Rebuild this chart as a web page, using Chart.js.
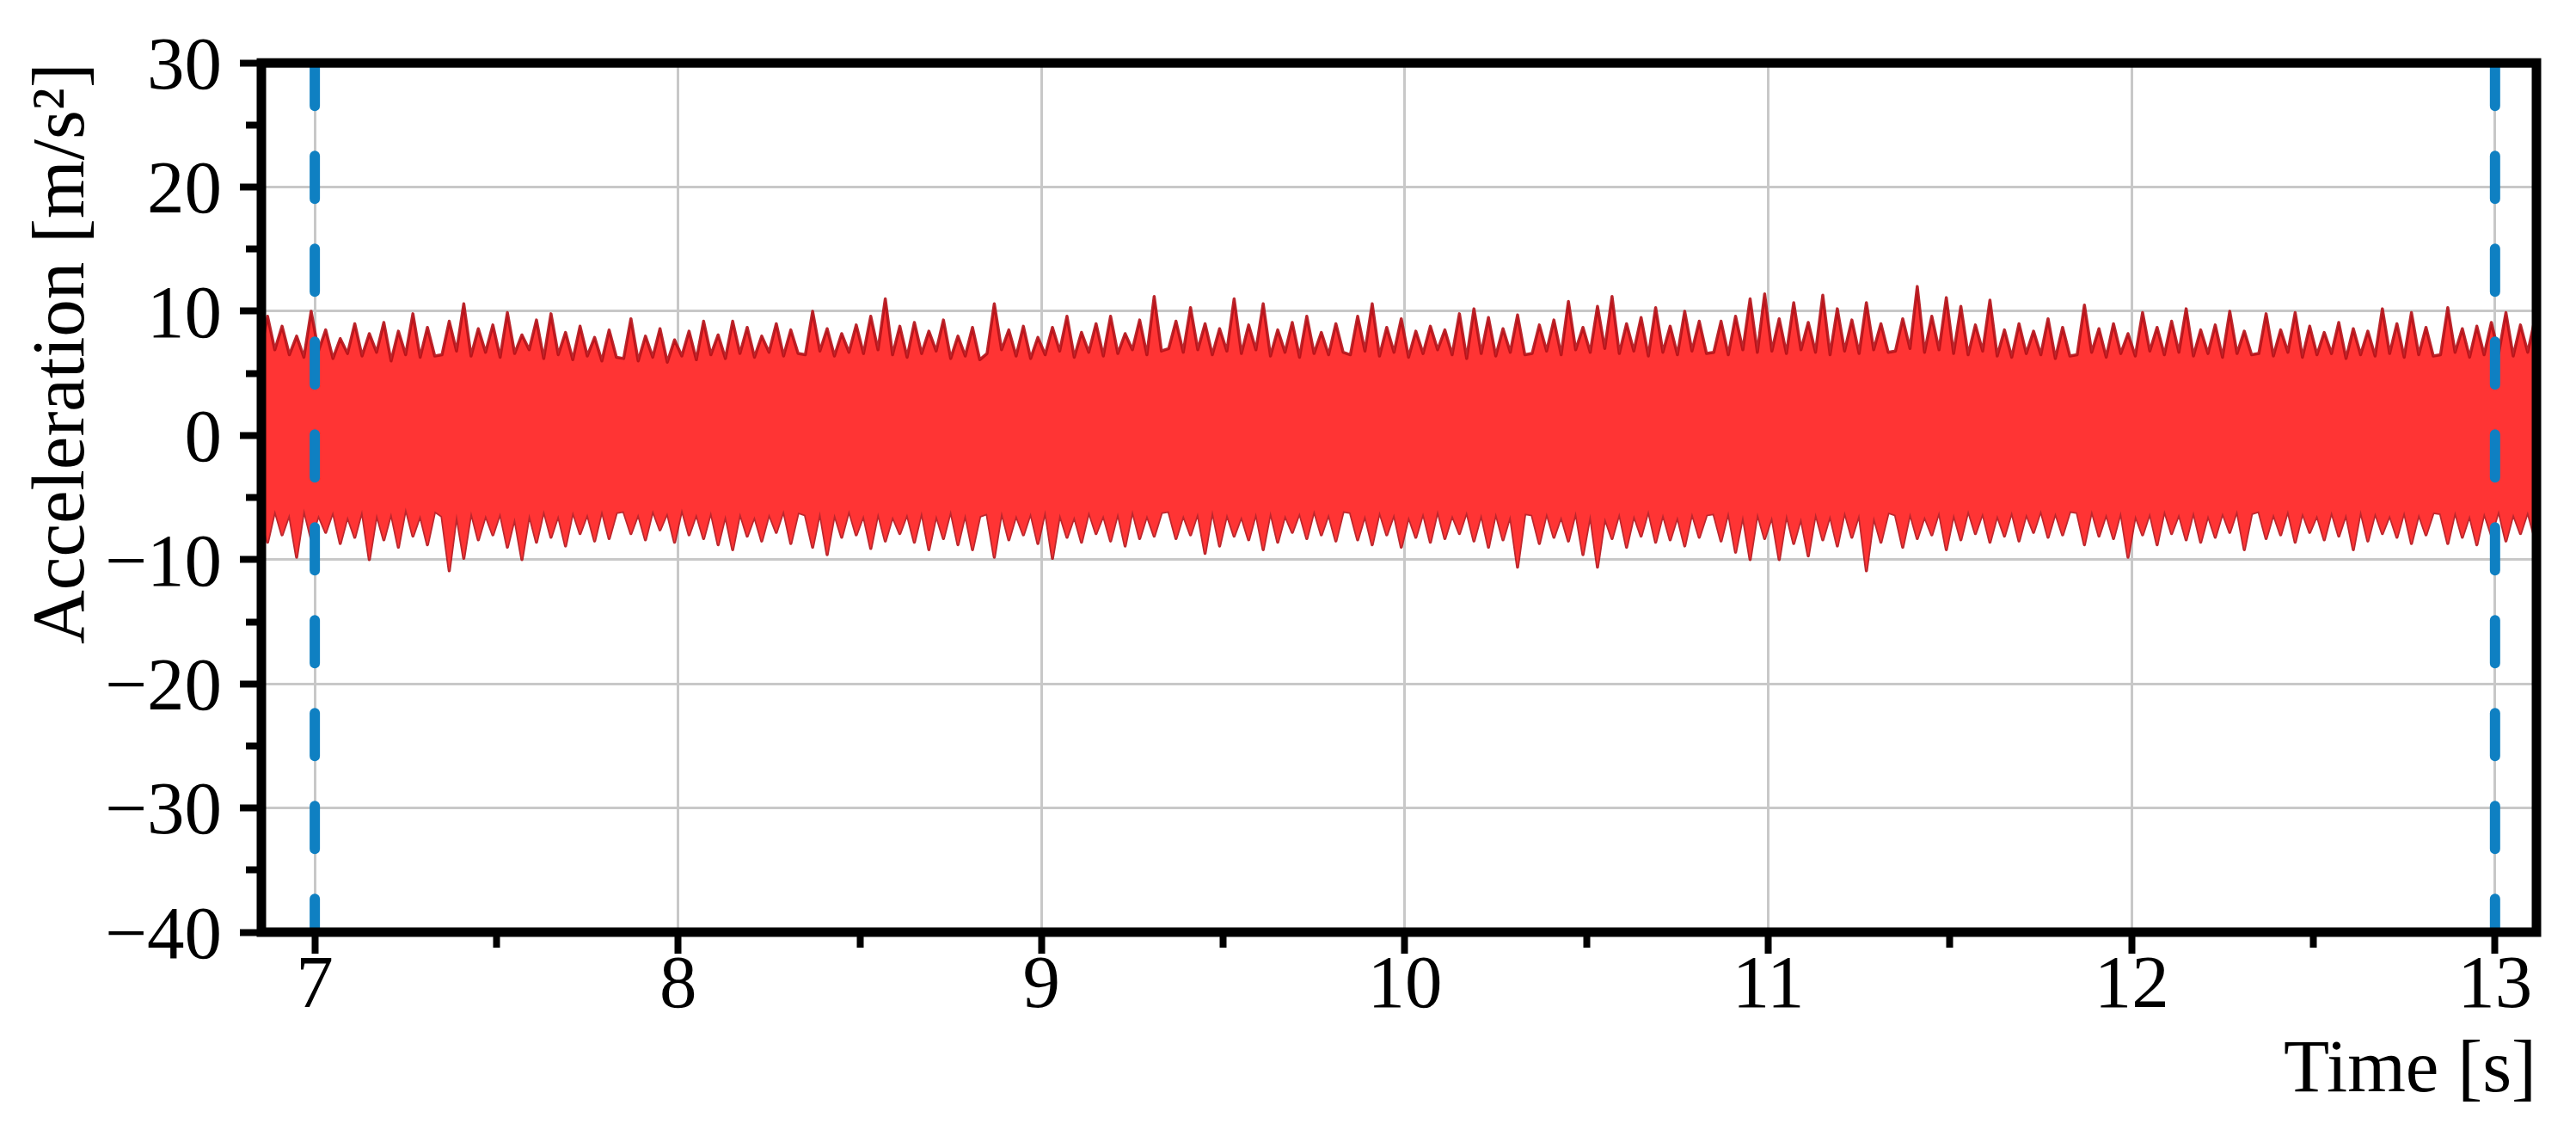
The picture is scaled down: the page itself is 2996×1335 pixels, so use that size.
<!DOCTYPE html>
<html>
<head>
<meta charset="utf-8">
<script src="https://cdn.jsdelivr.net/npm/chart.js@4.4.1/dist/chart.umd.min.js"></script>
<style>
    html, body { margin: 0; padding: 0; background: #ffffff; }
    canvas { display: block; }
</style>
</head>
<body>
<canvas id="accelChart" width="2996" height="1335"></canvas>
<script>
// Acceleration record, 7 s to 13 s window

// Axis ranges and ticks
const xMin = 6.853;
const xMax = 13.114;
const yMin = -40;
const yMax = 30;
const xMajorTicks = [7, 8, 9, 10, 11, 12, 13];
const xMinorTicks = [7.5, 8.5, 9.5, 10.5, 11.5, 12.5];
const yMajorTicks = [-40, -30, -20, -10, 0, 10, 20, 30];
const yMinorTicks = [-35, -25, -15, -5, 5, 15, 25];

// Window markers (dashed blue)
const markerTimes = [7, 13];

const sampleStart = 6.85;
const sampleStep = 0.02;

const upperEnvelope = [
    6.6, 9.6, 6.9, 8.8, 6.5, 8.0, 6.3, 10.0, 6.8, 8.5, 6.2, 7.8, 6.6, 9.0, 6.4, 8.2, 6.7, 9.1, 6.0, 8.4, 6.5, 9.8, 6.3, 8.7, 6.4,
    6.5, 9.2, 6.8, 10.6, 6.4, 8.6, 6.7, 8.9, 6.3, 9.9, 6.6, 8.1, 6.9, 9.3, 6.2, 9.8, 6.5, 8.3, 6.1, 8.8, 6.4, 7.9, 6.0, 8.5, 6.3,
    6.2, 9.4, 6.0, 8.0, 6.3, 8.6, 5.9, 7.7, 6.4, 8.4, 6.1, 9.2, 6.5, 8.1, 6.2, 9.2, 6.6, 8.7, 6.3, 8.0, 6.7, 9.0, 6.4, 8.5, 6.6,
    6.5, 10.0, 6.8, 8.6, 6.4, 8.2, 6.7, 8.9, 6.6, 9.6, 6.9, 11.0, 6.5, 8.8, 6.3, 9.1, 6.6, 8.4, 6.8, 9.3, 6.2, 8.0, 6.4, 8.7, 6.1,
    6.6, 10.6, 6.9, 8.5, 6.4, 8.8, 6.2, 7.9, 6.5, 8.7, 6.8, 9.6, 6.3, 8.3, 6.7, 9.0, 6.4, 9.6, 6.6, 8.2, 6.9, 9.3, 6.5, 11.2, 6.8,
    7.0, 9.2, 6.7, 10.3, 6.9, 9.0, 6.5, 8.6, 6.8, 11.0, 6.6, 8.9, 6.9, 10.6, 6.4, 8.5, 6.7, 9.1, 6.3, 9.6, 6.6, 8.3, 6.5, 9.0, 6.7,
    6.5, 9.6, 6.8, 10.6, 6.4, 8.7, 6.7, 9.4, 6.3, 8.4, 6.6, 8.8, 6.9, 8.5, 6.5, 9.8, 6.2, 10.2, 6.6, 9.5, 6.4, 8.6, 6.7, 9.7, 6.5,
    6.6, 8.9, 6.8, 9.3, 6.5, 10.8, 6.9, 8.7, 6.7, 10.4, 7.0, 11.2, 6.6, 9.0, 6.8, 9.5, 6.4, 10.3, 6.7, 8.8, 6.5, 10.0, 6.8, 9.2, 6.6,
    6.7, 9.2, 6.5, 9.6, 6.9, 11.0, 6.7, 11.4, 6.8, 9.4, 6.6, 10.7, 6.9, 9.1, 6.7, 11.3, 6.5, 10.2, 6.8, 9.3, 6.6, 10.7, 6.9, 9.0, 6.7,
    6.8, 9.4, 7.0, 12.0, 6.7, 9.6, 6.9, 11.1, 6.6, 10.4, 6.5, 8.9, 6.8, 10.9, 6.4, 8.5, 6.3, 9.0, 6.6, 8.4, 6.5, 9.4, 6.2, 8.7, 6.4,
    6.5, 10.5, 6.7, 8.6, 6.3, 9.0, 6.6, 8.2, 6.4, 9.9, 6.8, 8.7, 6.5, 9.2, 6.7, 10.2, 6.4, 8.5, 6.6, 8.9, 6.3, 10.0, 6.6, 8.4, 6.5,
    6.6, 9.8, 6.4, 8.5, 6.7, 9.9, 6.3, 8.8, 6.5, 8.3, 6.6, 9.1, 6.2, 8.6, 6.5, 8.4, 6.4, 10.2, 6.6, 9.0, 6.3, 9.9, 6.5, 8.7, 6.4,
    6.5, 10.3, 6.7, 8.6, 6.3, 8.8, 6.5, 9.1, 6.6, 9.9, 6.4, 8.9, 6.7, 9.4, 6.6
];

const lowerEnvelope = [
    -6.2, -8.6, -6.0, -8.0, -6.3, -9.8, -5.9, -8.3, -6.4, -7.8, -6.1, -8.7, -6.5, -8.2, -6.0, -10.0, -6.3, -8.4, -6.2, -9.0, -5.8, -8.1, -6.4, -8.8, -6.1,
    -6.5, -10.9, -6.3, -9.9, -6.1, -8.4, -6.4, -8.0, -6.2, -9.0, -6.6, -10.0, -6.3, -8.6, -6.0, -8.2, -6.4, -8.9, -6.1, -7.9, -6.3, -8.5, -6.0, -8.3, -6.2,
    -6.1, -7.9, -6.3, -8.4, -6.0, -7.6, -6.2, -8.6, -5.9, -8.0, -6.3, -8.3, -6.1, -8.8, -6.4, -9.2, -6.2, -8.1, -6.5, -8.5, -6.3, -7.8, -6.0, -8.7, -6.2,
    -6.4, -9.0, -6.1, -9.6, -6.3, -8.2, -6.0, -8.0, -6.4, -9.1, -6.2, -8.5, -6.5, -7.9, -6.3, -8.6, -6.1, -9.2, -6.4, -8.3, -6.0, -8.8, -6.3, -9.2, -6.5,
    -6.3, -9.8, -6.1, -8.4, -6.4, -8.0, -6.2, -8.7, -6.0, -9.9, -6.3, -8.2, -6.5, -8.6, -6.1, -7.9, -6.4, -8.5, -6.2, -8.9, -6.0, -8.3, -6.4, -8.1, -6.2,
    -6.1, -8.3, -6.4, -8.0, -6.2, -9.5, -6.0, -8.9, -6.3, -8.1, -6.5, -8.4, -6.2, -9.2, -6.1, -8.6, -6.4, -7.8, -6.2, -8.3, -6.0, -8.0, -6.3, -8.5, -6.1,
    -6.2, -8.4, -6.4, -8.8, -6.1, -8.0, -6.3, -9.0, -6.5, -8.2, -6.2, -8.6, -6.0, -8.3, -6.4, -7.9, -6.1, -8.5, -6.3, -9.0, -6.2, -8.4, -6.4, -10.6, -6.3,
    -6.4, -8.7, -6.2, -8.2, -6.5, -8.5, -6.1, -9.6, -6.3, -10.6, -6.6, -8.3, -6.2, -9.0, -6.4, -8.1, -6.0, -8.6, -6.3, -8.4, -6.5, -8.9, -6.2, -8.2, -6.4,
    -6.3, -8.5, -6.1, -9.4, -6.4, -10.0, -6.2, -8.3, -6.5, -10.0, -6.3, -8.7, -6.6, -9.7, -6.2, -8.4, -6.4, -8.9, -6.1, -8.2, -6.3, -10.9, -6.5, -8.6, -6.2,
    -6.4, -9.0, -6.2, -8.3, -6.5, -8.0, -6.1, -9.2, -6.3, -8.4, -6.0, -7.9, -6.2, -8.6, -6.4, -8.1, -6.1, -8.5, -6.3, -7.8, -6.0, -8.2, -6.2, -8.0, -6.1,
    -6.2, -8.8, -6.0, -8.1, -6.3, -8.3, -6.1, -9.8, -6.4, -8.0, -6.2, -8.8, -6.0, -7.9, -6.3, -8.4, -6.1, -8.6, -6.4, -8.2, -6.2, -7.8, -6.0, -9.2, -6.3,
    -6.1, -8.3, -6.3, -8.0, -6.0, -8.6, -6.2, -7.8, -6.4, -8.4, -6.1, -8.1, -6.3, -9.2, -6.0, -8.5, -6.2, -7.9, -6.4, -8.2, -6.1, -8.7, -6.3, -8.0, -6.2,
    -6.3, -8.7, -6.1, -8.2, -6.4, -8.8, -6.2, -8.0, -6.0, -8.5, -6.3, -7.9, -6.1, -8.3, -6.2
];

const signalRed = '#ff3434';
const signalEdge = 'rgba(180, 16, 22, 0.9)';
const markerBlue = '#0f80c2';
const gridGray = '#c8c8c8';
const fontFamily = '"Liberation Serif", "Times New Roman", serif';

const toPoints = (values) => values.map((v, i) => ({ x: sampleStart + i * sampleStep, y: v }));

const markerDatasets = markerTimes.map(t => ({
    data: [{ x: t, y: yMax }, { x: t, y: yMin }],
    borderColor: markerBlue,
    borderWidth: 12,
    borderDash: [50, 58],
    borderCapStyle: 'round',
    pointRadius: 0,
    fill: false,
    order: 0
}));

// black box round the plot area
const frame = {
    id: 'frame',
    afterDraw(chart) {
        const { ctx, chartArea: a } = chart;
        ctx.save();
        ctx.strokeStyle = '#000';
        ctx.lineWidth = 11;
        ctx.lineJoin = 'miter';
        ctx.strokeRect(a.left, a.top, a.right - a.left, a.bottom - a.top);
        ctx.restore();
    }
};

const minorAxis = (position, ticks) => ({
    type: 'linear',
    position: position,
    min: position === 'left' ? yMin : xMin,
    max: position === 'left' ? yMax : xMax,
    weight: 0,
    afterBuildTicks: (scale) => { scale.ticks = ticks.map(v => ({ value: v })); },
    afterFit: (scale) => {
        if (position === 'left') scale.width = 0; else scale.height = 0;
    },
    ticks: { display: false },
    border: { display: false },
    grid: {
        drawOnChartArea: false,
        drawTicks: true,
        tickLength: 18,
        tickColor: '#000',
        tickWidth: 8
    }
});

const chart = new Chart(document.getElementById('accelChart').getContext('2d'), {
    type: 'line',
    data: {
        datasets: [
            ...markerDatasets,
            {
                data: toPoints(upperEnvelope),
                borderColor: signalEdge,
                borderWidth: 3.5,
                borderJoinStyle: 'round',
                backgroundColor: signalRed,
                pointRadius: 0,
                tension: 0,
                fill: '+1',
                order: 1
            },
            {
                data: toPoints(lowerEnvelope),
                borderColor: signalEdge,
                borderWidth: 3.5,
                borderJoinStyle: 'round',
                backgroundColor: signalRed,
                pointRadius: 0,
                tension: 0,
                fill: false,
                order: 1
            }
        ]
    },
    options: {
        responsive: false,
        devicePixelRatio: 1,
        animation: false,
        layout: {
            padding: { left: 10, right: 46, top: 66, bottom: 10 }
        },
        plugins: {
            legend: { display: false },
            tooltip: { enabled: false }
        },
        scales: {
            x: {
                type: 'linear',
                position: 'bottom',
                min: xMin,
                max: xMax,
                weight: 1,
                afterBuildTicks: (scale) => { scale.ticks = xMajorTicks.map(v => ({ value: v })); },
                afterFit: (scale) => { scale.height = 241; },
                border: { display: false },
                grid: {
                    color: gridGray,
                    lineWidth: 3,
                    tickColor: '#000',
                    tickWidth: 8,
                    tickLength: 25
                },
                ticks: {
                    color: '#000',
                    padding: 0,
                    maxRotation: 0,
                    font: { family: fontFamily, size: 87, lineHeight: 0.9 }
                },
                title: {
                    display: true,
                    text: 'Time [s]',
                    align: 'end',
                    color: '#000',
                    padding: { top: 0, bottom: 27 },
                    font: { family: fontFamily, size: 87 }
                }
            },
            xMinor: minorAxis('bottom', xMinorTicks),
            y: {
                type: 'linear',
                position: 'left',
                min: yMin,
                max: yMax,
                weight: 1,
                afterBuildTicks: (scale) => { scale.ticks = yMajorTicks.map(v => ({ value: v })); },
                afterFit: (scale) => { scale.width = 294; },
                border: { display: false },
                grid: {
                    color: gridGray,
                    lineWidth: 3,
                    tickColor: '#000',
                    tickWidth: 8,
                    tickLength: 25
                },
                ticks: {
                    color: '#000',
                    padding: 21,
                    labelOffset: 7,
                    font: { family: fontFamily, size: 87 },
                    callback: (value) => String(value).replace('-', '\u2212')
                },
                title: {
                    display: true,
                    text: 'Acceleration [m/s\u00b2]',
                    align: 'end',
                    color: '#000',
                    padding: { top: 12, bottom: 0 },
                    font: { family: fontFamily, size: 87 }
                }
            },
            yMinor: minorAxis('left', yMinorTicks)
        }
    },
    plugins: [frame]
});
</script>
</body>
</html>
